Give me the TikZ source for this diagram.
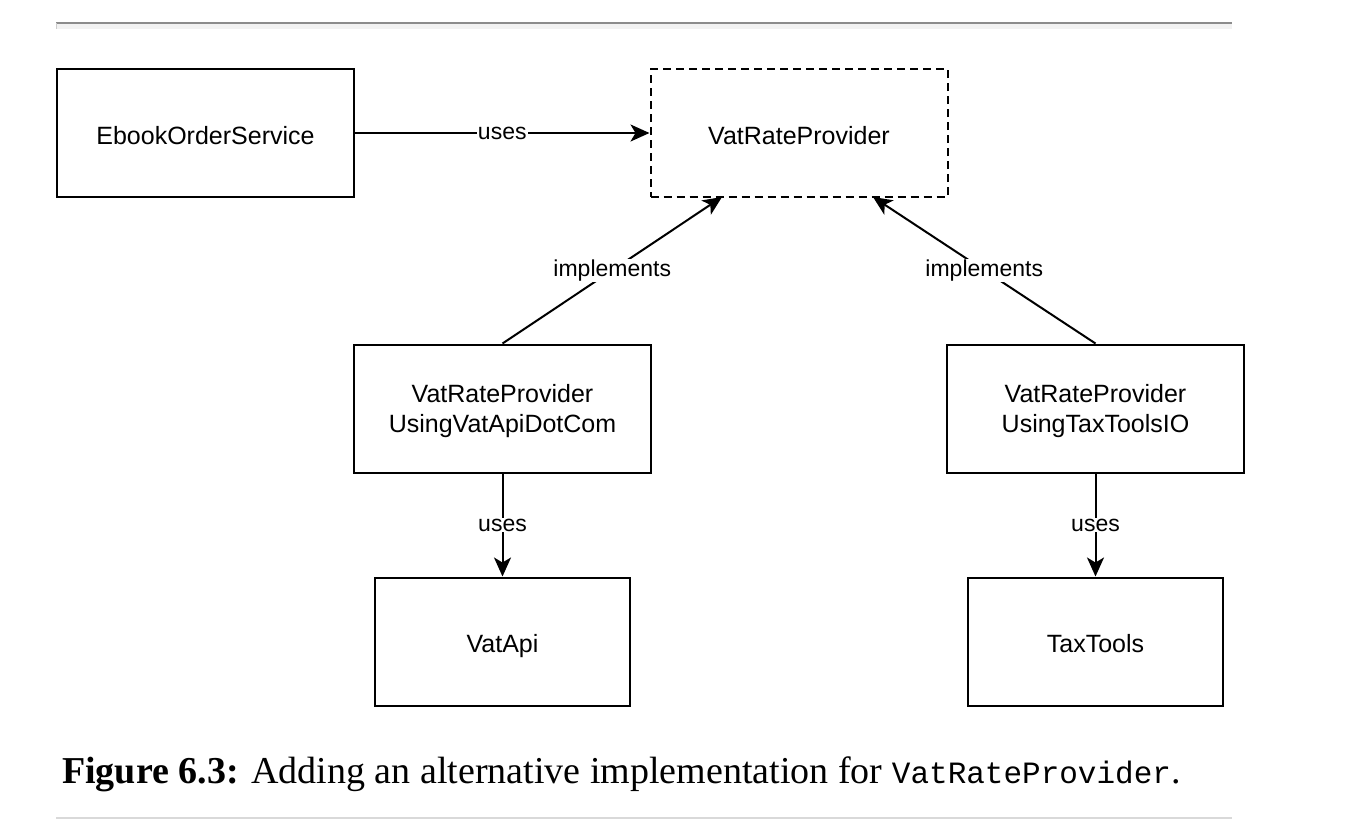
\documentclass[tikz,border=0pt]{standalone}
\usepackage{fontspec}
\setmainfont{Liberation Serif}
\setsansfont{Liberation Sans}
\setmonofont{Liberation Mono}
\usetikzlibrary{arrows.meta}
\tikzset{
	klass/.style={draw=black, line width=2pt, minimum width=297pt, minimum height=128pt, inner sep=0pt, align=center, text depth=0pt, font=\sffamily\fontsize{25}{30}\selectfont},
	oneline/.style={text height=25pt, text depth=3pt},
	iface/.style={klass, oneline, dash pattern=on 8pt off 5pt},
	libbox/.style={klass, oneline, minimum width=255pt},
	rel/.style={line width=2pt, -{Stealth[length=19pt, width=17pt, inset=5pt]}},
	tag/.style={fill=white, inner sep=1pt, font=\sffamily\fontsize{23}{27}\selectfont}
}

\begin{document}
\begin{tikzpicture}[x=1pt, y=-1pt]
			%%%%% START %%%%%
			\useasboundingbox (0, 0) rectangle (1350, 820);
			
			% top rule
			\fill[black!5] (56, 22) rectangle (1232, 29);
			\draw[black!45, line width=2pt] (56, 23) -- (1232, 23);
			\draw[black!20, line width=1pt] (56, 23) -- (56, 29);
			
			\node[klass, oneline] (order) at (205.5, 133) {EbookOrderService};
			\node[iface] (provider) at (799, 133) {VatRateProvider};
			
			\node[klass] (viaapi) at (502.5, 408.5) {VatRateProvider\\UsingVatApiDotCom};
			\node[klass] (viatax) at (1095.5, 408.5) {VatRateProvider\\UsingTaxToolsIO};
			
			\node[libbox] (vatapi) at (502.5, 641.5) {VatApi};
			\node[libbox] (taxtools) at (1095.5, 641.5) {TaxTools};
			
			\coordinate (implL) at (722, 197);
			\coordinate (implR) at (873, 197);
			
			\draw[rel] (order.east) -- node[tag] {uses} (provider.west);
			\draw[rel] (viaapi.north) -- node[tag] {implements} (implL);
			\draw[rel] (viatax.north) -- node[tag] {implements} (implR);
			\draw[rel] (viaapi.south) -- node[tag] {uses} (vatapi.north);
			\draw[rel] (viatax.south) -- node[tag] {uses} (taxtools.north);
			
			% caption
			\node[anchor=base west, inner sep=0pt, font=\fontsize{38}{44}\selectfont] (caption) at (62, 783)
				{\textbf{Figure 6.3:} Adding an alternative implementation for {\ttfamily\fontsize{31}{36}\selectfont VatRateProvider}.};
			
			% bottom rule
			\draw[black!15, line width=1.5pt] (56, 818) -- (1232, 818);
			%%%%% END %%%%%
		\end{tikzpicture}
\end{document}
